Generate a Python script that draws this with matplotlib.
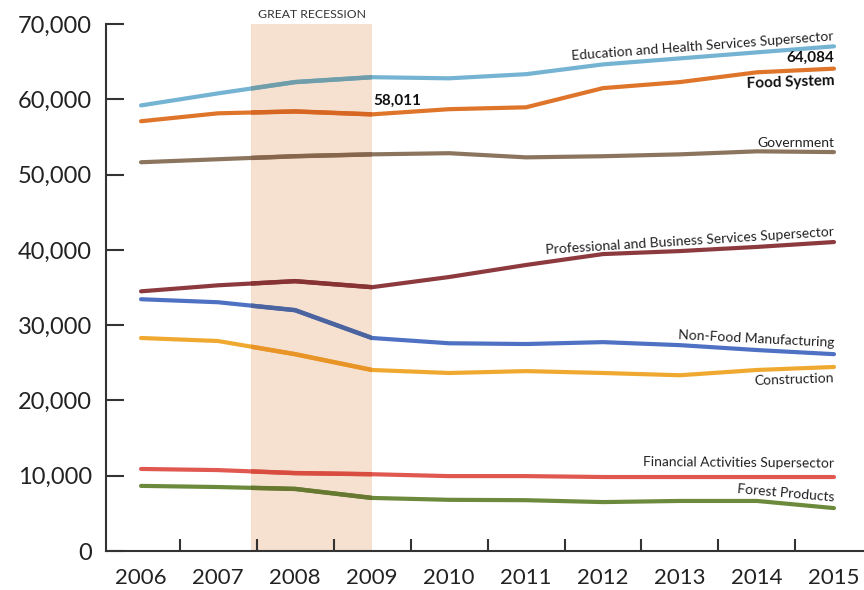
import matplotlib.pyplot as plt
import matplotlib.ticker as mticker
from matplotlib.colors import to_rgb
from matplotlib.patches import Rectangle

plt.rcParams['font.family'] = ['Lato', 'DejaVu Sans']

years = [2006, 2007, 2008, 2009, 2010, 2011, 2012, 2013, 2014, 2015]

edu_health = [59200, 60800, 62300, 62950, 62800, 63350, 64650, 65450, 66250, 67050]
food_system = [57100, 58150, 58400, 58011, 58700, 58950, 61500, 62300, 63600, 64084]
government = [51650, 52050, 52450, 52700, 52850, 52300, 52450, 52700, 53100, 53000]
prof_business = [34500, 35300, 35850, 35050, 36400, 38000, 39450, 39850, 40400, 41050]
non_food_mfg = [33450, 33050, 32000, 28300, 27600, 27500, 27750, 27350, 26700, 26150]
construction = [28300, 27900, 26150, 24050, 23650, 23900, 23650, 23350, 24050, 24450]
financial = [10900, 10750, 10350, 10200, 9950, 9950, 9830, 9830, 9830, 9830]
forest = [8650, 8500, 8250, 7050, 6800, 6750, 6500, 6650, 6650, 5700]

recession = (2007.43, 2009.0)
shade_color = '#f6e0cf'

fig = plt.figure(figsize=(8.64, 5.9), dpi=100)
ax = fig.add_axes([0.1227, 0.0661, 0.8773, 0.893])

# Great Recession shading (behind lines; lines inside it get a multiplied colour)
ax.axvspan(recession[0], recession[1], color=shade_color, lw=0, zorder=1)
ax.text(sum(recession) / 2, 70500, 'GREAT RECESSION', ha='center', va='bottom',
        fontsize=8.8, color='#333333', clip_on=False)
clip_rect = Rectangle((recession[0], 0), recession[1] - recession[0], 70000,
                      transform=ax.transData, visible=False)
ax.add_patch(clip_rect)

# (data, colour, label, label side, rotation, offset)
series = [
    (edu_health, '#74b3d2', 'Education and Health Services Supersector', 'above', 4.3, 3),
    (food_system, '#df742b', None, None, 0, 0),
    (government, '#8b755f', 'Government', 'above', 0, 2),
    (prof_business, '#8d3a3f', 'Professional and Business Services Supersector', 'above', 3.6, 3),
    (non_food_mfg, '#4e71c3', 'Non-Food Manufacturing', 'above', -2.9, 4),
    (construction, '#f0a930', 'Construction', 'below', 2, -4),
    (financial, '#e0584f', 'Financial Activities Supersector', 'above', -0.5, 5),
    (forest, '#6b8a3b', 'Forest Products', 'above', -5, 3),
]

sr = to_rgb(shade_color)
for vals, color, label, side, rot, off in series:
    ax.plot(years, vals, color=color, lw=3, solid_capstyle='round', zorder=3)
    mixed = tuple(a * b for a, b in zip(to_rgb(color), sr))
    inner, = ax.plot(years, vals, color=mixed, lw=3.2, zorder=3.5)
    inner.set_clip_path(clip_rect)
    if label:
        ax.annotate(label, (years[-1], vals[-1]), xytext=(0, off), textcoords='offset points',
                    ha='right', va='bottom' if side == 'above' else 'top',
                    rotation=rot, rotation_mode='anchor', fontsize=10, color='#222222')

# Food System labels in bold
ax.annotate(f'{food_system[-1]:,}', (years[-1], food_system[-1]), xytext=(0, 3),
            textcoords='offset points', ha='right', va='bottom', fontsize=11,
            fontweight='bold', color='#111111')
ax.annotate('Food System', (years[-1], food_system[-1]), xytext=(0, -4),
            textcoords='offset points', ha='right', va='top', rotation=2,
            rotation_mode='anchor', fontsize=11, fontweight='bold', color='#111111')
ax.annotate(f'{food_system[3]:,}', (years[3], food_system[3]), xytext=(1, 5),
            textcoords='offset points', ha='left', va='bottom', fontsize=11,
            fontweight='bold', color='#111111')

ax.set_xlim(2005.545, 2015.39)
ax.set_ylim(0, 70000)

ax.set_yticks(range(0, 70001, 10000))
ax.yaxis.set_major_formatter(mticker.FuncFormatter(lambda v, p: f'{int(v):,}'))
ax.tick_params(axis='y', direction='in', length=13, width=1.5, color='#333333',
               labelsize=17, pad=10, labelcolor='#222222')

ax.set_xticks(years)
ax.set_xticks([y + 0.5 for y in years[:-1]], minor=True)
ax.tick_params(axis='x', which='major', length=0, labelsize=16, pad=12, labelcolor='#222222')
ax.tick_params(axis='x', which='minor', direction='in', length=9, width=1.5, color='#333333')

for side in ['top', 'right']:
    ax.spines[side].set_visible(False)
for side in ['left', 'bottom']:
    ax.spines[side].set_linewidth(1.5)
    ax.spines[side].set_color('#333333')
    ax.spines[side].set_zorder(5)

fig.savefig('out.png', dpi=100)
